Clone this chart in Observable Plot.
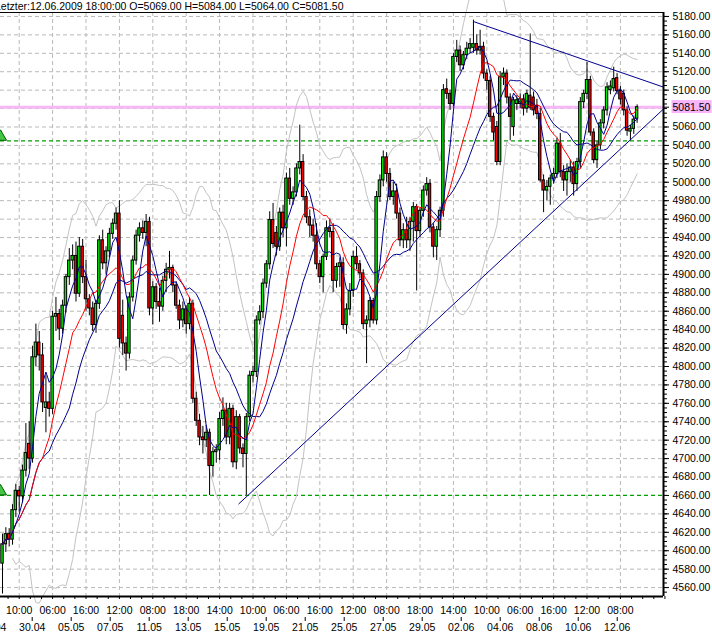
<!DOCTYPE html>
<html>
<head>
<meta charset="utf-8">
<script src="https://cdn.jsdelivr.net/npm/d3@7"></script>
<script src="https://cdn.jsdelivr.net/npm/@observablehq/plot@0.6"></script>
<style>
html, body { margin: 0; padding: 0; background: #ffffff; }
#chart svg { display: block; }
</style>
</head>
<body>
<div id="chart"></div>
<script>
// ---- data ----
const opens = [4586,4607,4618,4612,4644,4665,4659,4687,4716,4700,4810,4826,4812,4755,4761,4754,4854,4857,4841,4866,
4897,4915,4920,4879,4930,4897,4873,4863,4845,4868,4937,4912,4925,4944,4955,4966,4855,4825,4814,4875,
4915,4942,4950,4945,4957,4863,4886,4870,4865,4893,4905,4907,4888,4866,4850,4862,4846,4868,4765,4741,
4723,4720,4728,4692,4707,4709,4743,4752,4723,4754,4696,4745,4711,4705,4745,4790,4794,4850,4859,4890,
4911,4959,4945,4930,4967,4950,5004,4982,4989,5015,5022,4984,4962,4953,4942,4911,4897,4919,4950,4946,
4893,4908,4912,4845,4862,4882,4919,4911,4901,4846,4850,4871,4850,4984,5002,5027,5009,4984,4990,4966,
4937,4948,4937,4957,4973,4947,4969,4991,4998,4951,4930,4948,4969,5101,5096,5085,5136,5143,5127,5138,
5145,5146,5150,5143,5147,5118,5110,5071,5060,5022,5114,5118,5092,5060,5085,5085,5090,5080,5094,5092,
5083,5074,5002,4991,4995,5004,5009,5042,5011,5002,5011,5016,4998,5022,5087,5096,5111,5054,5024,5040,
5064,5078,5100,5102,5113,5099,5096,5078,5055,5058,5069];
const highs = [4618,4625,4624,4650,4672,4670,4693,4738,4740,4822,4846,4838,4825,4790,4772,4860,4875,4862,4872,4900,
4928,4932,4935,4940,4938,4915,4878,4870,4872,4942,4948,4930,4950,4960,4972,4980,4872,4832,4880,4920,
4948,4956,4958,4965,4962,4892,4890,4885,4898,4912,4925,4910,4892,4872,4870,4866,4875,4872,4772,4748,
4735,4736,4732,4712,4715,4750,4766,4760,4760,4758,4752,4748,4716,4749,4795,4800,4855,4866,4895,4915,
4968,4977,4952,4972,4975,5010,5015,4995,5020,5062,5030,4990,4970,4960,4955,4915,4922,4958,4960,4955,
4912,4918,4918,4868,4890,4925,4930,4915,4905,4855,4875,4874,4990,5008,5034,5032,5015,5000,4998,4972,
4955,4962,4962,4978,4976,4972,4996,5005,5003,4955,4952,4973,5106,5112,5100,5140,5154,5148,5142,5152,
5156,5176,5160,5165,5152,5122,5115,5075,5066,5120,5124,5122,5096,5092,5094,5096,5095,5100,5161,5098,
5090,5080,5008,5002,5008,5015,5048,5053,5018,5020,5024,5022,5026,5092,5100,5130,5115,5058,5044,5068,
5082,5108,5110,5125,5118,5104,5100,5082,5062,5072,5084];
const lows = [4553,4598,4604,4606,4636,4642,4652,4680,4688,4695,4800,4795,4750,4728,4745,4748,4838,4828,4835,4858,
4888,4905,4870,4875,4890,4860,4855,4838,4836,4862,4905,4900,4918,4938,4948,4820,4812,4795,4808,4870,
4910,4935,4938,4930,4855,4845,4862,4848,4860,4880,4895,4880,4862,4840,4842,4835,4840,4760,4735,4714,
4705,4712,4660,4680,4695,4698,4735,4715,4715,4690,4688,4705,4690,4660,4740,4782,4788,4845,4852,4885,
4905,4928,4920,4925,4940,4930,4975,4975,4984,5008,4980,4955,4940,4935,4905,4890,4880,4915,4940,4880,
4885,4886,4840,4835,4855,4875,4905,4895,4840,4803,4842,4846,4845,4978,4995,5000,4980,4975,4960,4930,
4928,4928,4925,4935,4882,4940,4962,4985,4945,4918,4915,4940,4962,5090,5078,5082,5130,5120,5122,5133,
5140,5140,5138,5138,5112,5100,5065,5045,5018,5018,5105,5085,5045,5050,5078,5080,5072,5075,5078,5072,
5068,5000,4967,4980,4975,4998,5004,5005,4990,4985,5000,4985,4990,5015,5080,5090,5050,5020,5015,5035,
5058,5072,5095,5098,5095,5084,5072,5050,5045,5052,5064];
const closes = [4607,4618,4612,4644,4665,4659,4687,4706,4700,4810,4826,4812,4761,4761,4754,4854,4857,4841,4866,4897,
4915,4920,4879,4930,4897,4873,4863,4845,4868,4937,4912,4925,4944,4955,4966,4830,4825,4814,4875,4915,
4942,4950,4945,4957,4863,4886,4870,4865,4893,4905,4907,4888,4866,4850,4862,4846,4868,4765,4741,4723,
4720,4728,4692,4707,4709,4743,4752,4723,4754,4696,4745,4711,4705,4745,4790,4794,4850,4859,4890,4911,
4959,4933,4930,4967,4950,5004,4982,4989,5015,5022,4984,4962,4953,4942,4911,4897,4919,4950,4946,4893,
4908,4912,4845,4862,4882,4919,4911,4901,4846,4850,4871,4850,4984,5002,5027,5009,4984,4990,4966,4937,
4948,4937,4957,4973,4947,4969,4991,4998,4951,4930,4948,4969,5100,5096,5085,5136,5143,5127,5138,5145,
5150,5150,5143,5147,5118,5110,5071,5054,5022,5114,5118,5092,5071,5089,5089,5090,5080,5096,5081,5078,
5074,5002,4991,4995,5004,5009,5042,5011,5002,5011,5016,4998,5022,5087,5096,5111,5054,5024,5040,5064,
5078,5103,5104,5112,5099,5090,5078,5056,5058,5068,5081.5];

const timeLabels = ["10:00","06:00","16:00","12:00","08:00","18:00","14:00","10:00","06:00","16:00",
                    "12:00","08:00","18:00","14:00","10:00","06:00","16:00","12:00","08:00"];
const dateLabels = ["29.04","30.04","05.05","07.05","11.05","13.05","15.05","19.05","21.05",
                    "25.05","27.05","29.05","02.06","04.06","08.06","10.06","12.06"];
const priceTicks = d3.range(4560, 5181, 20);
const lastStamp = "12.06.2009 18:00:00";
const alertLevels = [5045, 4660];
const upperTrendIdx = [141.3, 197.9];
const upperTrendPrice = [5174.1, 5103.3];
const lowerTrendIdx = [70.75, 197.9];
const lowerTrendPrice = [4650.9, 5079.5];

// ---- derived ----
const n = closes.length;
const last = n - 1;
const lastPrice = closes[last];
const timeIdx = timeLabels.map((_, k) => 5 + 10 * k);
const dateIdx = dateLabels.map((_, k) => 8.89 + 11.677 * (k - 1));
const minorIdx = d3.range(0, 60).map(k => 5 + (10 / 3) * (k - 1));
const minorPrice = d3.range(4555, 5185, 5);
const timeMap = new Map(timeIdx.map((v, k) => [v, timeLabels[k]]));
const dateMap = new Map(dateIdx.map((v, k) => [v, dateLabels[k]]));

function sma(arr, p) {
  return arr.map((_, i) => d3.mean(arr.slice(Math.max(0, i - p + 1), i + 1)));
}
function band(arr, p, k, sign) {
  return arr.map((_, i) => {
    const w = arr.slice(Math.max(0, i - p + 1), i + 1);
    const m = d3.mean(w);
    const sd = Math.sqrt(d3.mean(w, v => (v - m) * (v - m)));
    return m + sign * k * sd;
  });
}
const ma5 = sma(closes, 5), ma13 = sma(closes, 13), ma21 = sma(closes, 21);
const bbU = band(closes, 20, 2, 1), bbL = band(closes, 20, 2, -1);

const candles = d3.range(n).map(i => ({
  i, open: opens[i], high: highs[i], low: lows[i], close: closes[i],
  ma5: ma5[i], ma13: ma13[i], ma21: ma21[i], bbU: bbU[i], bbL: bbL[i]
}));
const bandData = candles.filter(d => d.i >= 3);

const headerText = `Letzter:${lastStamp} O=${opens[last].toFixed(2)} H=${highs[last].toFixed(2)} L=${lows[last].toFixed(2)} C=${closes[last].toFixed(2)}`;

const GRID = "#b9b9b9";
const NAVY = "#000090";

const chart = Plot.plot({
  width: 712,
  height: 637,
  marginTop: 12,
  marginRight: 49,
  marginBottom: 41,
  marginLeft: 0,
  style: {fontFamily: "'Liberation Sans', Arial, sans-serif", fontSize: "10.5px", background: "#ffffff", color: "#000000"},
  x: {type: "linear", domain: [-0.6, 197.9], label: null},
  y: {type: "linear", domain: [4550.3, 5184.3], label: null},
  marks: [
    // grid
    Plot.ruleY(priceTicks.filter(v => !alertLevels.includes(v)), {stroke: GRID, strokeDasharray: "4,3"}),
    Plot.ruleX(timeIdx, {stroke: GRID, strokeDasharray: "4,3"}),
    // last price line
    Plot.ruleY([lastPrice], {stroke: "#f6b8f6", strokeWidth: 3}),
    // alert levels
    Plot.ruleY(alertLevels, {stroke: "#00a000", strokeWidth: 1.2, strokeDasharray: "4,3"}),
    // bollinger bands
    Plot.line(bandData, {x: "i", y: "bbU", stroke: "#c3c3c3", strokeWidth: 1}),
    Plot.line(bandData, {x: "i", y: "bbL", stroke: "#c3c3c3", strokeWidth: 1}),
    // candles
    Plot.ruleX(candles, {x: "i", y1: "low", y2: "high", stroke: "#000000", strokeWidth: 1}),
    Plot.rect(candles, {
      x1: d => d.i - 0.36, x2: d => d.i + 0.36,
      y1: "open", y2: "close",
      fill: d => d.close >= d.open ? "#00ee00" : "#ff0000",
      stroke: "#000000", strokeWidth: 1
    }),
    // moving averages
    Plot.line(candles, {x: "i", y: "ma21", stroke: NAVY, strokeWidth: 1}),
    Plot.line(candles, {x: "i", y: "ma13", stroke: "#ff0000", strokeWidth: 1}),
    Plot.line(candles, {x: "i", y: "ma5", stroke: NAVY, strokeWidth: 1}),
    // trend lines
    Plot.line(upperTrendIdx.map((v, k) => ({i: v, p: upperTrendPrice[k]})), {x: "i", y: "p", stroke: NAVY, strokeWidth: 1, clip: true}),
    Plot.line(lowerTrendIdx.map((v, k) => ({i: v, p: lowerTrendPrice[k]})), {x: "i", y: "p", stroke: NAVY, strokeWidth: 1, clip: true}),
    // alert markers
    Plot.dot(alertLevels, {x: () => -0.6, y: d => d, dy: -4, symbol: "triangle", r: 4.5, fill: "#44c444", stroke: "#006400", strokeWidth: 1}),
    // frame lines
    Plot.ruleY([5184.3], {stroke: "#000000", strokeWidth: 1}),
    Plot.ruleY([4550.3], {stroke: "#000000", strokeWidth: 2}),
    Plot.ruleX([197.9], {stroke: "#000000", strokeWidth: 2}),
    // right axis
    Plot.axisY(minorPrice, {anchor: "right", tickSize: 3, tickFormat: () => "", label: null}),
    Plot.axisY(priceTicks.filter(v => v !== 5080), {anchor: "right", tickSize: 5, tickPadding: 4, tickFormat: d => d.toFixed(2), label: null}),
    Plot.axisY([lastPrice], {anchor: "right", tickSize: 5, tickPadding: 4, tickFormat: d => d.toFixed(2), label: null}),
    // bottom axis
    Plot.axisX(minorIdx, {anchor: "bottom", tickSize: 3, tickFormat: () => "", label: null}),
    Plot.axisX(timeIdx, {anchor: "bottom", tickSize: 0, tickPadding: 10, tickFormat: d => timeMap.get(d), label: null}),
    Plot.axisX(dateIdx, {anchor: "bottom", tickSize: 4, tickPadding: 2, dy: 21, tickFormat: d => dateMap.get(d), label: null}),
    // header
    Plot.text([headerText], {frameAnchor: "top-left", dx: -5.5, dy: -5.5, textAnchor: "start", lineAnchor: "middle", text: d => d, fontSize: 10.5})
  ]
});

document.getElementById("chart").appendChild(chart);

// pink background box behind the last-price label
const labelText = lastPrice.toFixed(2);
for (const t of chart.querySelectorAll("text")) {
  if (t.textContent === labelText) {
    const b = t.getBBox();
    const r = document.createElementNS("http://www.w3.org/2000/svg", "rect");
    r.setAttribute("x", b.x - 1);
    r.setAttribute("y", b.y - 0.5);
    r.setAttribute("width", b.width + 2);
    r.setAttribute("height", b.height + 1);
    r.setAttribute("fill", "#f8b4f8");
    if (t.getAttribute("transform")) r.setAttribute("transform", t.getAttribute("transform"));
    t.parentNode.insertBefore(r, t);
  }
}
</script>
</body>
</html>
